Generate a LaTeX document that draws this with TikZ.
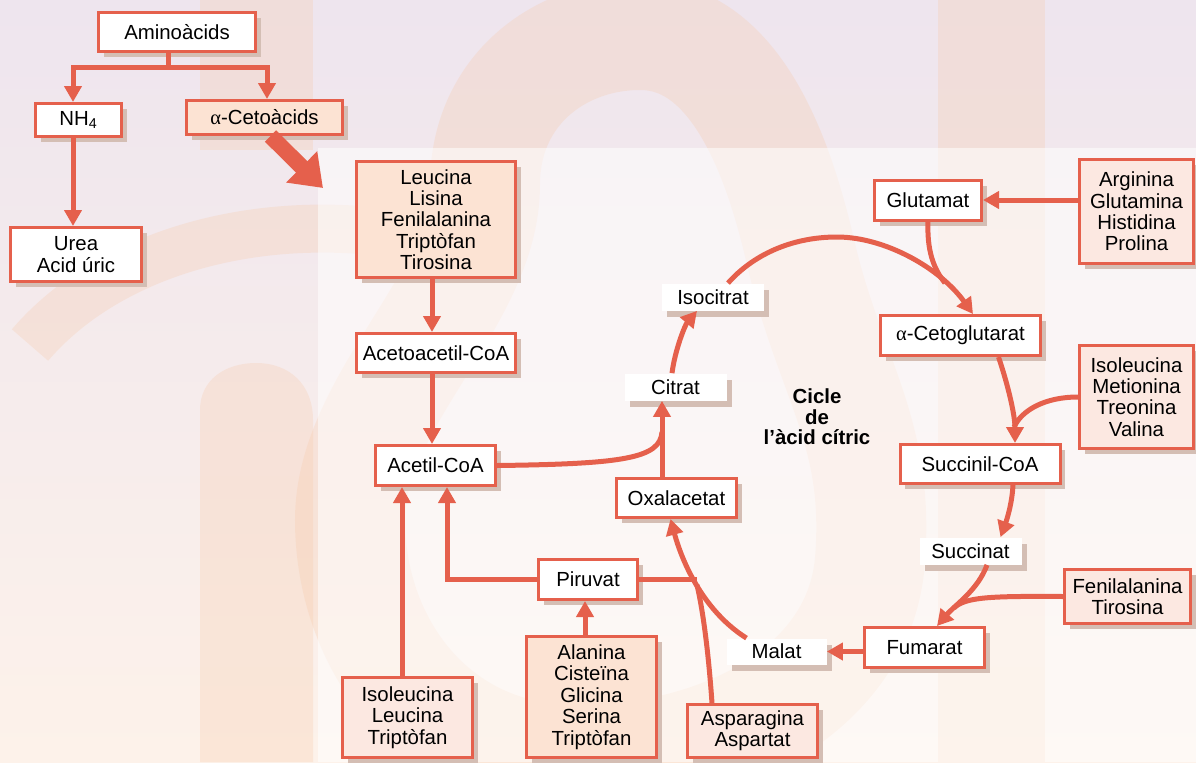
\documentclass[tikz,border=0pt]{standalone}
\usepackage{fontspec}
\setmainfont{Liberation Sans}
\newfontfamily\greekfont{Liberation Serif}
\usepackage{tikz}
\usetikzlibrary{arrows.meta,shadows}
\definecolor{cyclered}{HTML}{E5604C}
\definecolor{shadowtan}{HTML}{D4BEB4}
\definecolor{softpeach}{HTML}{FCE3D3}
\definecolor{softpink}{HTML}{FCE8E1}
\definecolor{markpeach}{HTML}{F7C9A8}
\definecolor{bgtop}{HTML}{EEE5EE}
\definecolor{bgbottom}{HTML}{FDF2EA}
\newcommand{\boxfont}{\fontsize{10.2}{10.7}\selectfont}
\newcommand{\alfa}{{\greekfont α}}
\tikzset{
  metabox/.style={draw=cyclered, fill=white, line width=1.5pt, align=center, font=\boxfont, inner sep=0pt,
    drop shadow={shadow xshift=2.5pt, shadow yshift=-2.75pt, fill=shadowtan, opacity=1}},
  sourcebox/.style={metabox, fill=softpink},
  cyclelabel/.style={fill=white, align=center, font=\boxfont, inner sep=0pt,
    drop shadow={shadow xshift=2.5pt, shadow yshift=-3pt, fill=shadowtan, opacity=1}},
  boxsize/.style 2 args={minimum width=#1*0.5pt-1.5pt, minimum height=#2*0.5pt-1.5pt},
  flowline/.style={draw=cyclered, line width=2.5pt},
  flow/.style={flowline, -{Triangle[length=8pt,width=8.5pt]}},
  bigflow/.style={draw=cyclered, line width=8pt, -{Triangle[length=15pt,width=21pt]}},
  watermark/.style={fill=markpeach, opacity=0.28},
  watermarkline/.style={draw=markpeach, opacity=0.28}
}

\begin{document}
\begin{tikzpicture}[x=0.5pt, y=-0.5pt]
  \useasboundingbox (0,0) rectangle (1196,762);
  % background with faint logo
  \shade[top color=bgtop, bottom color=bgbottom] (0,0) rectangle (1196,762);
  \fill[watermark] (200,0) rectangle (313,150);
  \fill[watermark] (200,762) -- (200,410) .. controls (200,380) and (225,363) .. (256,363)
    .. controls (290,363) and (313,385) .. (313,420) -- (313,762) -- cycle;
  \draw[watermarkline, line width=24pt] (30,345) .. controls (120,240) and (300,200) .. (470,250);
  \draw[watermarkline, line width=55pt] (485,185) .. controls (485,90) and (560,35) .. (640,35)
    .. controls (720,35) and (770,120) .. (800,250) .. controls (830,380) and (880,430) .. (870,560)
    .. controls (860,690) and (720,760) .. (577,760) .. controls (430,760) and (350,640) .. (350,520)
    .. controls (350,400) and (485,300) .. (485,185) -- cycle;
  \fill[watermark] (938,0) rectangle (1045,762);
  \fill[white, opacity=0.55] (318,148) rectangle (1196,762);

  % nodes
  \node[metabox, boxsize={160}{42}] (amino) at (177,32) {Aminoàcids};
  \node[metabox, boxsize={89}{36}] (nh4) at (78.5,120) {NH\textsubscript{4}};
  \node[metabox, fill=softpeach, boxsize={159}{37}] (ceto) at (264.5,117.5) {\alfa-Cetoàcids};
  \node[metabox, boxsize={134}{57}] (urea) at (76,254.5) {Urea\\Acid úric};
  \node[sourcebox, fill=softpeach, boxsize={162}{119}] (leu) at (436,219.5) {Leucina\\Lisina\\Fenilalanina\\Triptòfan\\Tirosina};
  \node[metabox, boxsize={162}{42}] (acetoac) at (436,353) {Acetoacetil-CoA};
  \node[metabox, boxsize={123}{43}] (acetil) at (435.5,465.5) {Acetil-CoA};
  \node[sourcebox, boxsize={133}{83}] (ileu) at (407.5,717.5) {Isoleucina\\Leucina\\Triptòfan};
  \node[metabox, boxsize={102}{43}] (piruvat) at (588,579.5) {Piruvat};
  \node[sourcebox, fill=softpeach, boxsize={133}{124}] (alanina) at (591.5,697) {Alanina\\Cisteïna\\Glicina\\Serina\\Triptòfan};
  \node[metabox, boxsize={123}{42}] (oxal) at (676.5,498) {Oxalacetat};
  \node[cyclelabel, boxsize={105}{30}] (citrat) at (675.5,387) {Citrat};
  \node[cyclelabel, boxsize={105}{30}] (isocitrat) at (713,297) {Isocitrat};
  \node[metabox, boxsize={110}{43}] (glutamat) at (928,200) {Glutamat};
  \node[sourcebox, boxsize={117}{107}] (arginina) at (1136.5,211.5) {Arginina\\Glutamina\\Histidina\\Prolina};
  \node[metabox, boxsize={163}{43}] (cetoglut) at (960.5,335.5) {\alfa-Cetoglutarat};
  \node[sourcebox, boxsize={117}{106}] (isoleu) at (1136.5,397) {Isoleucina\\Metionina\\Treonina\\Valina};
  \node[metabox, boxsize={163}{42}] (succoa) at (980,464) {Succinil-CoA};
  \node[cyclelabel, boxsize={105}{30}] (succinat) at (970.5,551) {Succinat};
  \node[sourcebox, boxsize={129}{57}] (fenil) at (1127.5,596.5) {Fenilalanina\\Tirosina};
  \node[metabox, boxsize={123}{43}] (fumarat) at (924.5,647.5) {Fumarat};
  \node[cyclelabel, boxsize={103}{29}] (malat) at (776.5,651.5) {Malat};
  \node[sourcebox, boxsize={133}{56}] (aspar) at (752.5,731) {Asparagina\\Aspartat};
  \node[font=\fontsize{10.2}{10.3}\selectfont\bfseries, align=center] (cycletitle) at (817,417) {Cicle\\de\\l’àcid cítric};

  % amino acid breakdown
  \coordinate (fork) at (168,67);
  \draw[flowline] (fork |- amino.south) -- (fork);
  \draw[flow] (fork) -| ([xshift=-2.75pt]nh4.north);
  \draw[flow] (fork) -| ([xshift=1.25pt]ceto.north);
  \coordinate (nhfoot) at ([xshift=-2.75pt]nh4.south);
  \draw[flow] (nhfoot) -- (nhfoot |- urea.north);
  \coordinate (bigtip) at (323,188);
  \draw[bigflow] ([xshift=3pt]ceto.south) -- (bigtip);

  % into acetyl-CoA
  \coordinate (leufoot) at ([xshift=-2pt]leu.south);
  \draw[flow] (leufoot) -- (leufoot |- acetoac.north);
  \coordinate (acacfoot) at ([xshift=-2pt]acetoac.south);
  \draw[flow] (acacfoot) -- (acacfoot |- acetil.north);
  \coordinate (ileutop) at ([xshift=-2.75pt]ileu.north);
  \draw[flow] (ileutop) -- (ileutop |- acetil.south);
  \draw[flow] (piruvat.west) -| ([xshift=5.75pt]acetil.south);
  \coordinate (pirufoot) at ([xshift=-1.5pt]piruvat.south);
  \draw[flow] (pirufoot |- alanina.north) -- (pirufoot);

  % citric acid cycle
  \coordinate (oxtop) at ([xshift=-7.25pt]oxal.north);
  \draw[flow] (oxtop) -- (oxtop |- citrat.south);
  \coordinate (citjoin) at (662,432);
  \draw[flowline] (acetil.east) .. controls (625,464) and (660,458) .. (citjoin);
  \draw[flow] ([xshift=-1.75pt]citrat.north) .. controls (675,350) and (685,325) .. ([xshift=-8pt]isocitrat.south);
  \coordinate (arctop) at (837,237);
  \draw[flow] ([xshift=7.5pt]isocitrat.north) .. controls (752,256) and (790,237) .. (arctop)
    .. controls (885,237) and (940,268) .. ([xshift=6.25pt]cetoglut.north);
  \coordinate (glujoin) at (945,283);
  \draw[flowline] (glutamat.south) .. controls (927,250) and (933,268) .. (glujoin);
  \draw[flow] (arginina.west |- glutamat.east) -- (glutamat.east);
  \draw[flow] ([xshift=19pt]cetoglut.south) .. controls (1008,385) and (1015,415) .. ([xshift=17.5pt]succoa.north);
  \coordinate (succjoin) at (1014,427);
  \draw[flowline] (isoleu.west) .. controls (1045,397) and (1022,410) .. (succjoin);
  \draw[flow] ([xshift=16.5pt]succoa.south) .. controls (1012,505) and (1006,522) .. ([xshift=15pt]succinat.north);
  \draw[flow] ([xshift=8.25pt]succinat.south) .. controls (978,590) and (955,605) .. ([xshift=6.25pt]fumarat.north);
  \coordinate (fumjoin) at (954,608);
  \draw[flowline] (fenil.west) .. controls (990,596) and (965,597) .. (fumjoin);
  \draw[flow] (fumarat.west |- malat.east) -- (malat.east);
  \coordinate (oxjoin) at (697,585);
  \draw[flow] ([xshift=-15pt]malat.north) .. controls (705,612) and (683,565) .. ([xshift=-3pt]oxal.south);
  \draw[flowline] (piruvat.east) -- (piruvat.east -| oxjoin);
  \draw[flowline] ([xshift=-20.25pt]aspar.north) .. controls (709,660) and (704,615) .. (oxjoin);
\end{tikzpicture}
\end{document}
